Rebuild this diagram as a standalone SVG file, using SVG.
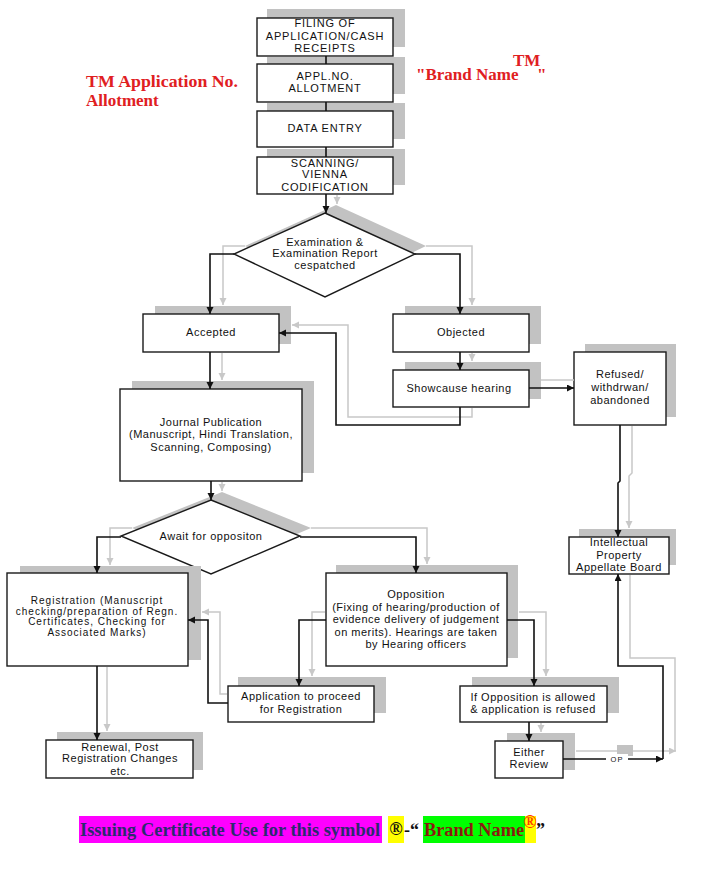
<svg xmlns="http://www.w3.org/2000/svg" width="720" height="892" viewBox="0 0 720 892">
<defs>
<style>
.sh{fill:#c2c2c2;stroke:none}
.bx{fill:#fff;stroke:#1a1a1a;stroke-width:1.4}
.t{font-family:"Liberation Sans",Arial,sans-serif;font-size:11px;fill:#111;text-anchor:middle;letter-spacing:0.5px}
.tr{font-family:"Liberation Sans",Arial,sans-serif;font-size:10px;fill:#111;text-anchor:middle;letter-spacing:1px}
.tu{font-family:"Liberation Sans",Arial,sans-serif;font-size:11px;fill:#111;text-anchor:middle;letter-spacing:0.8px}
.ck{fill:none;stroke:#111;stroke-width:1.6}
.cg{fill:none;stroke:#c8c8c8;stroke-width:1.5}
.red{font-family:"Liberation Serif","Times New Roman",serif;font-weight:bold;font-size:17px;fill:#e0201f}
.cap{font-family:"Liberation Serif","Times New Roman",serif;font-weight:bold;font-size:18px}
</style>
<marker id="ak" markerUnits="userSpaceOnUse" markerWidth="8" markerHeight="8" refX="7" refY="3.5" orient="auto"><path d="M0,0 L7,3.5 L0,7 z" fill="#111"/></marker>
<marker id="ag" markerUnits="userSpaceOnUse" markerWidth="8" markerHeight="8" refX="7" refY="3.5" orient="auto"><path d="M0,0 L7,3.5 L0,7 z" fill="#c8c8c8"/></marker>
</defs>
<rect width="720" height="892" fill="#fff"/>

<!-- labels -->
<text class="red" x="86" y="87" textLength="152" lengthAdjust="spacingAndGlyphs">TM Application No.</text>
<text class="red" x="86" y="106">Allotment</text>
<text class="red" x="416" y="80">"Brand Name</text>
<text class="red" x="513" y="66" font-size="11">TM</text>
<text class="red" x="537" y="80">"</text>

<!-- nodes -->
<g id="filing"><rect class="sh" x="267" y="9" width="138" height="38"/><rect class="bx" x="257" y="18" width="136" height="38"/>
<text class="tu" x="325" y="27">FILING OF</text><text class="tu" x="325" y="40">APPLICATION/CASH</text><text class="tu" x="325" y="52">RECEIPTS</text></g>
<g id="applno"><rect class="sh" x="267" y="57" width="138" height="37"/><rect class="bx" x="257" y="64" width="136" height="38"/>
<text class="tu" x="325" y="80">APPL.NO.</text><text class="tu" x="325" y="92">ALLOTMENT</text></g>
<g id="dataentry"><rect class="sh" x="267" y="103" width="138" height="36"/><rect class="bx" x="257" y="111" width="136" height="36"/>
<text class="tu" x="325" y="132">DATA ENTRY</text></g>
<g id="scanning"><rect class="sh" x="267" y="149" width="138" height="36"/><rect class="bx" x="257" y="157" width="136" height="37"/>
<text class="tu" x="325" y="167">SCANNING/</text><text class="tu" x="325" y="178">VIENNA</text><text class="tu" x="325" y="191">CODIFICATION</text></g>

<g id="examination"><polygon class="sh" points="336,205 426,246 336,289 245,246"/><polygon class="bx" points="325,213 415,254 325,297 234,254"/>
<text class="t" x="325" y="246">Examination &amp;</text><text class="t" x="325" y="257">Examination Report</text><text class="t" x="325" y="269">cespatched</text></g>

<g id="accepted"><rect class="sh" x="155" y="306" width="136" height="38"/><rect class="bx" x="143" y="314" width="136" height="38"/>
<text class="t" x="211" y="336">Accepted</text></g>
<g id="objected"><rect class="sh" x="405" y="306" width="136" height="38"/><rect class="bx" x="393" y="314" width="136" height="38"/>
<text class="t" x="461" y="336">Objected</text></g>
<g id="showcause"><rect class="sh" x="405" y="362" width="136" height="37"/><rect class="bx" x="393" y="370" width="136" height="37"/>
<text class="t" x="459" y="392">Showcause hearing</text></g>
<g id="refused"><rect class="sh" x="585" y="344" width="91" height="73"/><rect class="bx" x="574" y="352" width="92" height="73"/>
<text class="t" x="620" y="378">Refused/</text><text class="t" x="620" y="391">withdrwan/</text><text class="t" x="620" y="404">abandoned</text></g>
<g id="journal"><rect class="sh" x="132" y="381" width="182" height="92"/><rect class="bx" x="120" y="389" width="182" height="92"/>
<text class="t" x="211" y="426">Journal Publication</text><text class="t" x="211" y="438">(Manuscript, Hindi Translation,</text><text class="t" x="211" y="451">Scanning, Composing)</text></g>

<g id="await"><polygon class="sh" points="222,492 311,528 222,566 132,528"/><polygon class="bx" points="211,500 300,536 211,574 121,536"/>
<text class="t" x="211" y="540">Await for oppositon</text></g>

<g id="registration"><rect class="sh" x="20" y="566" width="181" height="94"/><rect class="bx" x="7" y="573" width="181" height="93"/>
<text class="tr" x="97" y="604">Registration (Manuscript</text><text class="tr" x="97" y="614.5">checking/preparation of Regn.</text><text class="tr" x="97" y="625">Certificates, Checking for</text><text class="tr" x="97" y="635.5">Associated Marks)</text></g>
<g id="opposition"><rect class="sh" x="336" y="565" width="182" height="93"/><rect class="bx" x="326" y="573" width="181" height="93"/>
<text class="t" x="416" y="598" letter-spacing="0.2">Opposition</text><text class="t" x="416" y="611" letter-spacing="0.2">(Fixing of hearing/production of</text><text class="t" x="416" y="623" letter-spacing="0.2">evidence delivery of judgement</text><text class="t" x="416" y="636" letter-spacing="0.2">on merits). Hearings are taken</text><text class="t" x="416" y="648" letter-spacing="0.2">by Hearing officers</text></g>
<g id="ipab"><rect class="sh" x="579" y="529" width="97" height="36"/><rect class="bx" x="569" y="537" width="100" height="37"/>
<text class="t" x="619" y="546">Intellectual</text><text class="t" x="619" y="559">Property</text><text class="t" x="619" y="571">Appellate Board</text></g>
<g id="application"><rect class="sh" x="238" y="677" width="148" height="36"/><rect class="bx" x="228" y="686" width="146" height="36"/>
<text class="t" x="301" y="700" letter-spacing="0.3">Application to proceed</text><text class="t" x="301" y="713" letter-spacing="0.3">for Registration</text></g>
<g id="ifopposition"><rect class="sh" x="472" y="677" width="147" height="36"/><rect class="bx" x="460" y="686" width="147" height="36"/>
<text class="t" x="533" y="701" letter-spacing="0.3">If Opposition is allowed</text><text class="t" x="533" y="713" letter-spacing="0.3">&amp; application is refused</text></g>
<g id="renewal"><rect class="sh" x="57" y="732" width="146" height="38"/><rect class="bx" x="46" y="740" width="147" height="38"/>
<text class="t" x="120" y="751">Renewal, Post</text><text class="t" x="120" y="762">Registration Changes</text><text class="t" x="120" y="775">etc.</text></g>
<g id="either"><rect class="sh" x="507" y="733" width="68" height="37"/><rect class="bx" x="495" y="741" width="68" height="37"/>
<text class="t" x="529" y="756">Either</text><text class="t" x="529" y="768">Review</text></g>

<!-- connectors -->
<g id="connectors">
<g id="shadow-connectors">
<path class="cg" d="M337,195 V204" marker-end="url(#ag)"/>
<path class="cg" d="M245,246 H223 V305" marker-end="url(#ag)"/>
<path class="cg" d="M426,246 H472 V305" marker-end="url(#ag)"/>
<path class="cg" d="M222,353 V380" marker-end="url(#ag)"/>
<path class="cg" d="M472,353 V361" marker-end="url(#ag)"/>
<path class="cg" d="M472,408 V417 H348 V325 H292" marker-end="url(#ag)"/>
<path class="cg" d="M541,380 H574"/>
<path class="cg" d="M632,426 V473 L629,476 V528" marker-end="url(#ag)"/>
<path class="cg" d="M222,482 V491" marker-end="url(#ag)"/>
<path class="cg" d="M132,528 H110 V565" marker-end="url(#ag)"/>
<path class="cg" d="M311,528 H427 V564" marker-end="url(#ag)"/>
<path class="cg" d="M107,667 V731" marker-end="url(#ag)"/>
<path class="cg" d="M227,694 H220 V612 H202" marker-end="url(#ag)"/>
<path class="cg" d="M325,612 H312 V676" marker-end="url(#ag)"/>
<path class="cg" d="M519,612 H546 V676" marker-end="url(#ag)"/>
<path class="cg" d="M541,723 V732" marker-end="url(#ag)"/>
<path class="cg" d="M576,751 H676" marker-end="url(#ag)"/>
<rect x="617" y="745" width="16" height="11" fill="#c2c2c2"/>
<path class="cg" d="M675,751 V658 H630 V575"/>
</g>
<g id="main-connectors">
<path class="ck" d="M326,56 V64 M326,102 V111 M326,147 V157"/>
<path class="ck" d="M326,194 V213" marker-end="url(#ak)"/>
<path class="ck" d="M234,254 H210 V314" marker-end="url(#ak)"/>
<path class="ck" d="M415,254 H460 V314" marker-end="url(#ak)"/>
<path class="ck" d="M210,352 V389" marker-end="url(#ak)"/>
<path class="ck" d="M460,352 V370" marker-end="url(#ak)"/>
<path class="ck" d="M460,407 V425 H336 V333 H279" marker-end="url(#ak)"/>
<path class="ck" d="M529,388 H574" marker-end="url(#ak)"/>
<path class="ck" d="M620,425 V481 L618,483 V537" marker-end="url(#ak)"/>
<path class="ck" d="M211,481 V500" marker-end="url(#ak)"/>
<path class="ck" d="M121,537 H97 V573" marker-end="url(#ak)"/>
<path class="ck" d="M300,537 H416 V573" marker-end="url(#ak)"/>
<path class="ck" d="M97,666 V740" marker-end="url(#ak)"/>
<path class="ck" d="M228,703 H208 V620 H188" marker-end="url(#ak)"/>
<path class="ck" d="M326,620 H299 V686" marker-end="url(#ak)"/>
<path class="ck" d="M507,620 H534 V686" marker-end="url(#ak)"/>
<path class="ck" d="M529,722 V741" marker-end="url(#ak)"/>
<path class="ck" d="M563,759 H663" marker-end="url(#ak)"/>
<rect x="606" y="754" width="22" height="10" fill="#fff"/>
<text x="617" y="762" font-family="'Liberation Sans',Arial,sans-serif" font-size="7.5" text-anchor="middle" letter-spacing="1.2" fill="#111">OP</text>
<path class="ck" d="M663,759 V666 H618 V574" marker-end="url(#ak)"/>
</g>
</g>

<!-- caption -->
<rect x="79" y="816" width="303" height="27" fill="#ff00ff"/>
<rect x="388" y="816" width="16" height="27" fill="#ffff00"/>
<rect x="423" y="816" width="102" height="27" fill="#00ff00"/>
<rect x="525" y="816" width="11" height="27" fill="#ffff00"/>
<text class="cap" x="80" y="836" fill="#2b2a6e" textLength="300" lengthAdjust="spacingAndGlyphs">Issuing Certificate Use for this symbol</text>
<text class="cap" x="396" y="835" fill="#111" text-anchor="middle" font-size="20">®</text>
<text class="cap" x="404" y="836" fill="#111">-“</text>
<text class="cap" x="424" y="836" fill="#8b1a10" textLength="100" lengthAdjust="spacingAndGlyphs">Brand Name</text>
<text class="cap" x="530" y="828" fill="#ff3300" text-anchor="middle" font-size="12">®</text>
<text class="cap" x="536" y="836" fill="#111">”</text>
</svg>
